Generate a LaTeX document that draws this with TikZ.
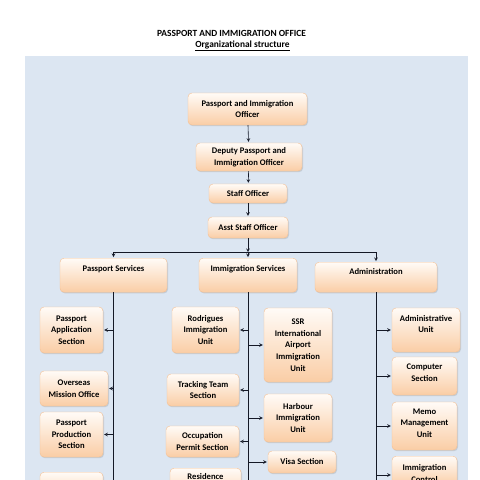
\documentclass[tikz,border=0pt]{standalone}
\usepackage{fontspec}
\setmainfont{Carlito}
\usetikzlibrary{shadows}
\definecolor{bgblue}{RGB}{220,230,242}
\definecolor{boxtop}{RGB}{255,251,247}
\definecolor{boxbot}{RGB}{250,205,165}
\definecolor{boxline}{RGB}{246,192,146}
\definecolor{linkcol}{RGB}{20,24,38}

\begin{document}
\begin{tikzpicture}[>=stealth,x=1pt,y=-1pt,
        unit/.style={draw=boxline,rounded corners=4pt,top color=boxtop,bottom color=boxbot,
            drop shadow={opacity=0.25,shadow xshift=1pt,shadow yshift=-1.2pt},
            font=\fontsize{8.6}{11.7}\selectfont\bfseries,align=center,inner sep=2pt},
        head/.style={unit,anchor=north,inner ysep=4pt},
        link/.style={->,linkcol,line width=0.6pt,shorten >=1pt}]
    \useasboundingbox (0,0) rectangle (480,480);
    \clip (0,0) rectangle (480,480);
    \fill[bgblue] (25,56) rectangle (468,490);
    % title
    \node[font=\fontsize{9.4}{11}\selectfont\bfseries] (title) at (231.5,33) {PASSPORT AND IMMIGRATION OFFICE};
    \node[font=\fontsize{9.4}{11}\selectfont\bfseries] (subtitle) at (242.5,46) {\underline{Organizational structure}};
    % top of the chain
    \node[unit,minimum width=119,minimum height=32] (pio) at (247.5,109) {Passport and Immigration\\Officer};
    \node[unit,minimum width=106,minimum height=28] (dpio) at (249,157) {Deputy Passport and\\Immigration Officer};
    \node[unit,minimum width=78,minimum height=19] (staff) at (248,193.5) {Staff Officer};
    \node[unit,minimum width=80,minimum height=21] (asst) at (248,227.5) {Asst Staff Officer};
    \draw[link] (pio) -- (dpio);
    \draw[link] (dpio) -- (staff);
    \draw[link] (staff) -- (asst);
    % services
    \coordinate (bus) at (248,252);
    \node[head,minimum width=107,text height=9.5pt,text depth=16.5pt] (psv) at (113.5,258) {Passport Services};
    \node[head,minimum width=98,text height=9.5pt,text depth=16.5pt] (isv) at (248,258) {Immigration Services};
    \node[head,minimum width=122,text height=8.5pt,text depth=13.5pt] (adm) at (376,262) {Administration};
    \draw[link,shorten >=0pt] (asst) -- (bus);
    \draw[linkcol,line width=0.8pt] (psv.north |- bus) -- (adm.north |- bus);
    \foreach \n in {psv,isv,adm}
        \draw[link] (\n.north |- bus) -- (\n.north);
    \coordinate (psend) at (113.5,490);
    \coordinate (isend) at (248,490);
    \coordinate (adend) at (376,490);
    \draw[linkcol,line width=0.7pt] (psv) -- (psend);
    \draw[linkcol,line width=0.7pt] (isv) -- (isend);
    \draw[linkcol,line width=0.7pt] (adm) -- (adend);
    % passport services
    \node[unit,minimum width=63,minimum height=46] (pas) at (71.5,330) {Passport\\Application\\Section};
    \node[unit,minimum width=68,minimum height=35] (omo) at (74,388.5) {Overseas\\Mission Office};
    \node[unit,minimum width=63,minimum height=45] (pps) at (71.5,434.5) {Passport\\Production\\Section};
    \node[unit,minimum width=63,minimum height=30,anchor=north] (pnext) at (71.5,472) {};
    \foreach \n in {pas,omo,pps}
        \draw[link] (psend |- \n) -- (\n.east);
    % immigration services
    \node[unit,minimum width=67,minimum height=46] (riu) at (205.5,330) {Rodrigues\\Immigration\\Unit};
    \node[unit,minimum width=68,minimum height=74] (ssr) at (298,345) {SSR\\International\\Airport\\Immigration\\Unit};
    \node[unit,minimum width=72,minimum height=32] (tts) at (203,390) {Tracking Team\\Section};
    \node[unit,minimum width=68,minimum height=48] (hiu) at (298,418) {Harbour\\Immigration\\Unit};
    \node[unit,minimum width=73,minimum height=31] (ops) at (202.5,441.5) {Occupation\\Permit Section};
    \node[unit,minimum width=68,minimum height=22] (visa) at (302,462) {Visa Section};
    \node[unit,minimum width=71,anchor=north,inner ysep=4pt,text height=7.5pt,text depth=20pt] (res) at (205.5,468) {Residence};
    \foreach \n in {riu,tts,ops}
        \draw[link] (isend |- \n) -- (\n.east);
    \foreach \n in {ssr,hiu,visa}
        \draw[link] (isend |- \n) -- (\n.west);
    % administration
    \node[unit,minimum width=68,minimum height=44] (adu) at (426,330) {Administrative\\Unit\rule[-12pt]{0pt}{12pt}};
    \node[unit,minimum width=65,minimum height=38] (cmp) at (424.5,376) {Computer\\Section\rule[-6pt]{0pt}{6pt}};
    \node[unit,minimum width=65,minimum height=48] (mmu) at (424.5,426) {Memo\\Management\\Unit\rule[-6pt]{0pt}{6pt}};
    \node[unit,minimum width=65,minimum height=30,anchor=north] (icu) at (424.5,456) {\rule{0pt}{10pt}Immigration\\Control};
    \foreach \n in {adu,cmp,mmu}
        \draw[link] (adend |- \n) -- (\n.west);
    \draw[link] (adend |- 0,475) -- (icu.west |- 0,475);
\end{tikzpicture}
\end{document}
